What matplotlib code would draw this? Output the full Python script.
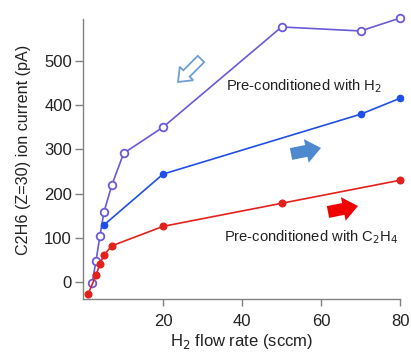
import matplotlib
matplotlib.use("Agg")
import matplotlib.pyplot as plt
import matplotlib.patches as mpatches
import matplotlib.transforms as mtransforms

plt.rcParams['font.family'] = ['Liberation Sans', 'DejaVu Sans']

# Data
x_open = [2, 3, 4, 5, 7, 10, 20, 50, 70, 80]
y_open = [-3, 48, 105, 158, 219, 291, 350, 576, 567, 596]

x_blue = [5, 20, 70, 80]
y_blue = [129, 244, 379, 415]

x_red = [1, 3, 4, 5, 7, 20, 50, 80]
y_red = [-27, 16, 41, 61, 82, 126, 178, 230]

xticks = [20, 40, 60, 80]
yticks = [0, 100, 200, 300, 400, 500]

W, H = 411, 353
fig = plt.figure(figsize=(W / 100, H / 100), dpi=100)
ax = fig.add_axes([83 / W, 1 - 299 / H, (400 - 83) / W, (299 - 19) / H])

purple = "#6a5ad8"
blue = "#1f4fe6"
red = "#e3211c"

ax.plot(x_open, y_open, color=purple, lw=1.2, marker='o', ms=5.5,
        mfc='white', mec=purple, mew=1.3, clip_on=False, zorder=3)
ax.plot(x_blue, y_blue, color=blue, lw=1.2, marker='o', ms=4.5,
        mfc=blue, mec=blue, clip_on=False, zorder=3)
ax.plot(x_red, y_red, color=red, lw=1.2, marker='o', ms=4.8,
        mfc=red, mec=red, clip_on=False, zorder=3)

ax.set_xlim(-0.3, 80)
ax.set_ylim(-38, 594)
ax.set_xticks(xticks)
ax.set_yticks(yticks)

for s in ['top', 'right']:
    ax.spines[s].set_visible(False)
for s in ['left', 'bottom']:
    ax.spines[s].set_color('#808080')
    ax.spines[s].set_linewidth(1.0)
ax.tick_params(axis='both', colors='#808080', labelcolor='#222222',
               labelsize=12, width=1.0)
ax.tick_params(axis='y', length=6, pad=2)
ax.tick_params(axis='x', length=5, pad=6)

ax.set_xlabel("H$_2$ flow rate (sccm)", fontsize=12, color='#222222', labelpad=2)
ax.set_ylabel("C2H6 (Z=30) ion current (pA)", fontsize=11.6, color='#222222',
              va='center')
ax.yaxis.set_label_coords((23.5 - 83) / 317, (299 - 150) / 280)

# Annotations (pixel coords from top-left)
tr = mtransforms.Affine2D().scale(1, -1).translate(0, H)
fig.text(226 / W, 1 - 86 / H, "Pre-conditioned with H$_2$", fontsize=10.6,
         color='#222222', va='center', ha='left')
fig.text(224 / W, 1 - 237 / H, "Pre-conditioned with C$_2$H$_4$", fontsize=10.6,
         color='#222222', va='center', ha='left')

# open arrow pointing down-left
a1 = mpatches.FancyArrow(201, 59, -23, 23, width=9, head_width=19, head_length=12,
                         length_includes_head=True, transform=tr,
                         facecolor='white', edgecolor='#6f9fd2', lw=1.3)
fig.patches.append(a1)
# blue filled arrow pointing right
a2 = mpatches.FancyArrow(291, 154, 30, -6, width=12, head_width=24, head_length=15,
                         length_includes_head=True, transform=tr,
                         facecolor='#4d89cf', edgecolor='none')
fig.patches.append(a2)
# red filled arrow pointing right
a3 = mpatches.FancyArrow(328, 212, 30, -6, width=12, head_width=24, head_length=15,
                         length_includes_head=True, transform=tr,
                         facecolor='#f00000', edgecolor='none')
fig.patches.append(a3)

fig.savefig("out.png", dpi=100)
